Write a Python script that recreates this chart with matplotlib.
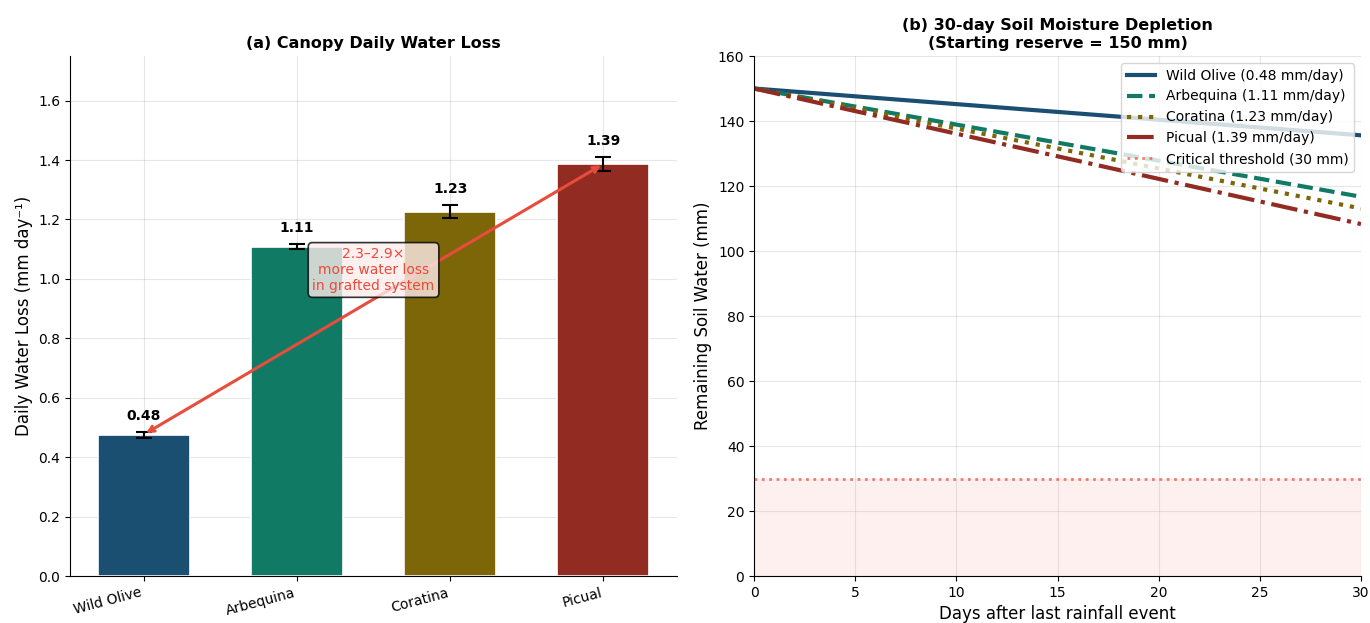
import numpy as np
import matplotlib
matplotlib.use("Agg")
import matplotlib.pyplot as plt

# panel (a) data
cultivars = ["Wild Olive", "Arbequina", "Coratina", "Picual"]
daily_loss = [0.476, 1.108, 1.226, 1.387]      # mm/day
loss_err = [0.010, 0.008, 0.022, 0.024]
bar_colors = ["#1B4F72", "#117A65", "#7D6608", "#922B21"]

# panel (b) data
days = [0, 30]
start_reserve = 150
end_reserve = [135.6, 116.7, 113.1, 108.3]      # mm left at day 30
rate_labels = ["0.48", "1.11", "1.23", "1.39"]
line_styles = ["-", "--", ":", "-."]
threshold = 30

red = "#E74C3C"

fig = plt.figure(figsize=(13.7, 6.23), dpi=100)
ax1 = fig.add_axes([0.0511, 0.0754, 0.4431, 0.8347])
ax2 = fig.add_axes([0.5504, 0.0754, 0.4430, 0.8347])

# --- (a) bars
x = np.arange(len(cultivars))
ax1.bar(x, daily_loss, width=0.6, color=bar_colors, edgecolor="white", linewidth=1.2,
        yerr=loss_err, capsize=6, error_kw=dict(ecolor="black", elinewidth=1.5, capthick=1.5),
        zorder=2)
for xi, v, e in zip(x, daily_loss, loss_err):
    ax1.text(xi, v + e + 0.03, f"{v:.2f}", ha="center", va="bottom",
             fontsize=10, fontweight="bold")

ax1.annotate("", xy=(x[-1], daily_loss[-1]), xytext=(x[0], daily_loss[0]),
             arrowprops=dict(arrowstyle="<->", color=red, lw=2.2), zorder=3)
ax1.text(1.5, 1.03, "2.3\u20132.9\u00d7\nmore water loss\nin grafted system",
         ha="center", va="center", fontsize=10, color=red, zorder=4,
         bbox=dict(boxstyle="round,pad=0.3", facecolor="#FDEDEC", edgecolor="black",
                   alpha=0.8, linewidth=1.2))

ax1.set_xticks(x)
ax1.set_xticklabels(cultivars, rotation=15, ha="right", fontsize=10)
ax1.set_ylim(0, 1.75)
ax1.set_ylabel("Daily Water Loss (mm day\u207b\u00b9)", fontsize=12)
ax1.set_title("(a) Canopy Daily Water Loss", fontsize=11.5, fontweight="bold")
ax1.grid(True, alpha=0.3, zorder=0)
ax1.set_axisbelow(True)

# --- (b) depletion lines
for name, c, ls, end, r in zip(cultivars, bar_colors, line_styles, end_reserve, rate_labels):
    ax2.plot(days, [start_reserve, end], color=c, linestyle=ls, linewidth=3,
             label=f"{name} ({r} mm/day)")
ax2.axhline(threshold, color=red, linestyle=":", linewidth=2, alpha=0.7,
            label=f"Critical threshold ({threshold} mm)")
ax2.axhspan(0, threshold, color=red, alpha=0.08)

ax2.set_xlim(0, 30)
ax2.set_ylim(0, 160)
ax2.set_xlabel("Days after last rainfall event", fontsize=12)
ax2.set_ylabel("Remaining Soil Water (mm)", fontsize=12)
ax2.set_title("(b) 30-day Soil Moisture Depletion\n(Starting reserve = 150 mm)",
              fontsize=11.5, fontweight="bold")
ax2.legend(loc="upper right", fontsize=10)
ax2.grid(True, alpha=0.3)

for ax in (ax1, ax2):
    ax.spines["top"].set_visible(False)
    ax.spines["right"].set_visible(False)
    ax.tick_params(labelsize=10)

fig.savefig("out.png", dpi=100)
